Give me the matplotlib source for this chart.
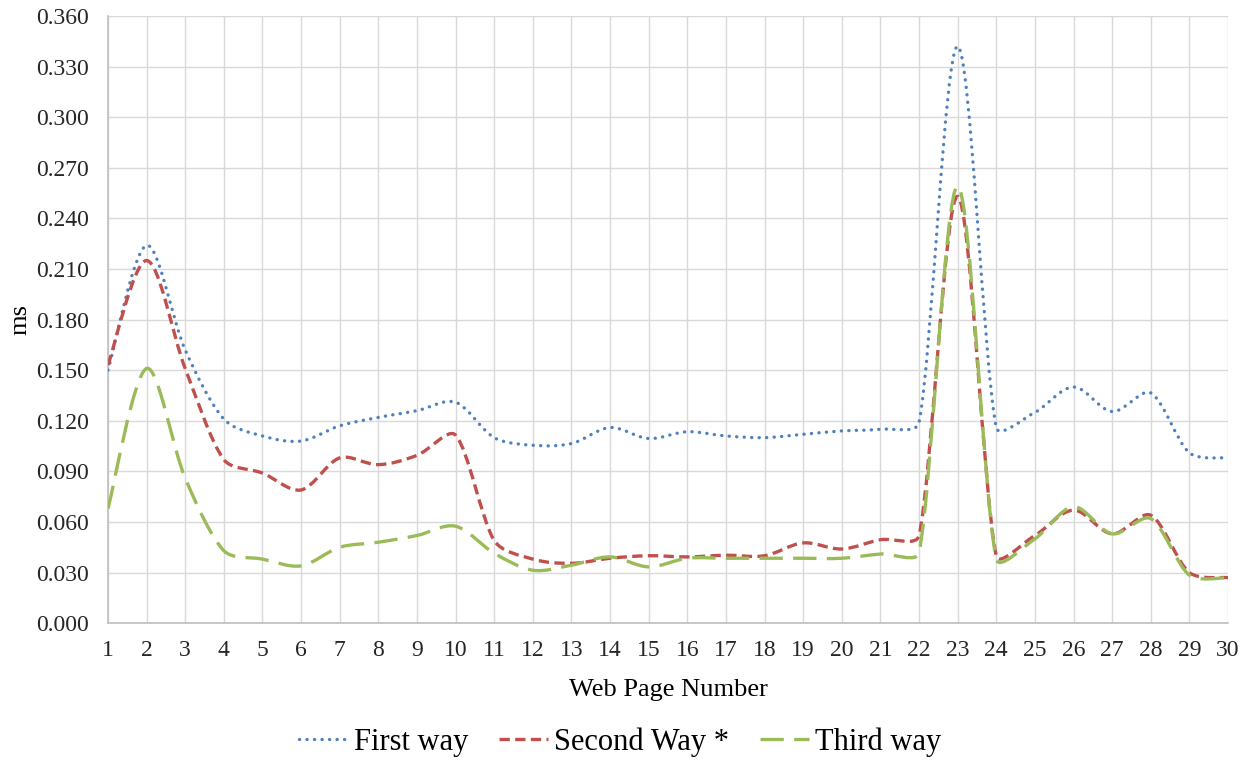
import matplotlib
matplotlib.use("Agg")
import matplotlib.pyplot as plt
import matplotlib.ticker as mticker
from matplotlib.path import Path
from matplotlib.patches import PathPatch
from matplotlib.lines import Line2D
import numpy as np

pages = list(range(1, 31))
first_way = [0.150, 0.224, 0.162, 0.121, 0.111, 0.108, 0.117, 0.122, 0.126, 0.131,
             0.110, 0.1055, 0.1065, 0.116, 0.1095, 0.1135, 0.111, 0.110, 0.112, 0.114,
             0.115, 0.119, 0.342, 0.116, 0.125, 0.140, 0.1255, 0.1365, 0.101, 0.098]
second_way = [0.153, 0.215, 0.151, 0.097, 0.089, 0.079, 0.098, 0.094, 0.0995, 0.1115,
              0.049, 0.038, 0.0355, 0.0385, 0.040, 0.0393, 0.0403, 0.040, 0.0476, 0.044,
              0.0495, 0.052, 0.253, 0.040, 0.052, 0.067, 0.053, 0.064, 0.030, 0.027]
third_way = [0.068, 0.151, 0.086, 0.043, 0.038, 0.034, 0.045, 0.048, 0.052, 0.0575,
             0.0415, 0.0314, 0.0344, 0.0393, 0.0334, 0.0385, 0.0385, 0.0385, 0.0385, 0.0385,
             0.041, 0.042, 0.259, 0.038, 0.050, 0.069, 0.053, 0.062, 0.0285, 0.027]

plt.rcParams["font.family"] = ["Liberation Serif", "DejaVu Serif"]

# rough pixel size of one data unit, so smoothing works in screen space
X_PX = 38.6
Y_PX = 50.6 / 0.03


def smooth_path(x, y):
    # bezier smoothing like a spreadsheet "smoothed line": catmull-rom tangents,
    # shortened on the side where the neighbouring segment is short
    pts = np.column_stack([x, y]).astype(float)
    scr = pts * [X_PX, Y_PX]
    n = len(pts)
    c_out = [None] * n
    c_in = [None] * n
    for i in range(n):
        a = max(i - 1, 0)
        b = min(i + 1, n - 1)
        tan = pts[b] - pts[a]
        d_in = np.hypot(*(scr[i] - scr[a]))
        d_out = np.hypot(*(scr[b] - scr[i]))
        tot = max(d_in + d_out, 1e-9)
        f_out = min(0.5, d_out / tot) if 0 < i < n - 1 else 0.5
        f_in = min(0.5, d_in / tot) if 0 < i < n - 1 else 0.5
        c_out[i] = pts[i] + tan * f_out / 3.0
        c_in[i] = pts[i] - tan * f_in / 3.0
    verts = [pts[0]]
    codes = [Path.MOVETO]
    for i in range(n - 1):
        verts += [c_out[i], c_in[i + 1], pts[i + 1]]
        codes += [Path.CURVE4] * 3
    return Path(verts, codes)


fig = plt.figure(figsize=(12.48, 7.6), dpi=100)
ax = fig.add_axes([0.0865, 0.180, 0.8975, 0.799])

LW = 2.4
series = [
    ("First way", first_way, "#4F81BD", (0, (0.05, 2.2)), "round"),
    ("Second Way *", second_way, "#C0504D", (0, (3.1, 1.6)), "butt"),
    ("Third way", third_way, "#9BBB59", (0, (7.0, 3.1)), "butt"),
]

handles = []
for label, vals, color, ls, cap in series:
    patch = PathPatch(smooth_path(pages, vals), facecolor="none", edgecolor=color,
                      linewidth=LW, linestyle=ls, capstyle=cap, zorder=3)
    ax.add_patch(patch)
    handles.append(Line2D([], [], color=color, linewidth=LW, linestyle=ls,
                          dash_capstyle=cap))

ax.set_xlim(1, 30)
ax.set_ylim(0, 0.36)
ax.set_xticks(pages)
ax.yaxis.set_major_locator(mticker.MultipleLocator(0.03))
ax.yaxis.set_major_formatter(mticker.FormatStrFormatter("%.3f"))
ax.grid(True, color="#d9d9d9", linewidth=1.0)
ax.set_axisbelow(True)
for side in ["top", "right"]:
    ax.spines[side].set_visible(False)
for side in ["left", "bottom"]:
    ax.spines[side].set_color("#bfbfbf")
    ax.spines[side].set_linewidth(1.2)
ax.tick_params(axis="y", length=0, labelsize=17, pad=14)
ax.tick_params(axis="x", length=0, labelsize=17, pad=12)
for t in ax.get_xticklabels() + ax.get_yticklabels():
    t.set_color("#262626")

ax.set_xlabel("Web Page Number", fontsize=19, labelpad=13)
ax.set_ylabel("ms", fontsize=19, labelpad=3)

fig.legend(handles, [s[0] for s in series], loc="center", bbox_to_anchor=(0.497, 0.024),
           ncol=3, frameon=False, fontsize=22, handlelength=1.6, handletextpad=0.2,
           columnspacing=1.0)

fig.savefig("out.png", dpi=100)
